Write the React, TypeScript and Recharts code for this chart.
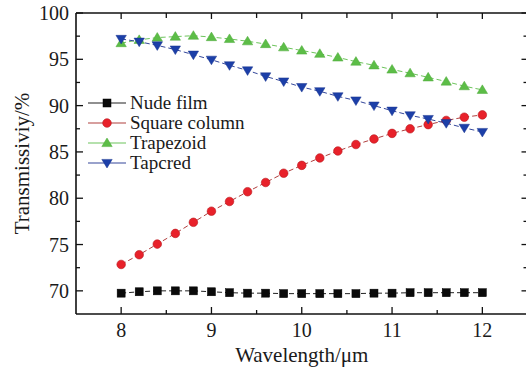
import React from 'react';
import { LineChart, Line, XAxis, YAxis, Legend, ReferenceLine } from 'recharts';

// wavelength samples (µm)
const wavelengths = [8, 8.2, 8.4, 8.6, 8.8, 9, 9.2, 9.4, 9.6, 9.8, 10, 10.2, 10.4, 10.6, 10.8, 11, 11.2, 11.4, 11.6, 11.8, 12];

const nudeFilm = [69.75, 69.9, 70.0, 70.0, 70.0, 69.9, 69.8, 69.75, 69.75, 69.7, 69.7, 69.7, 69.7, 69.7, 69.75, 69.75, 69.8, 69.8, 69.8, 69.8, 69.8];
const squareColumn = [72.85, 73.9, 75.05, 76.2, 77.4, 78.6, 79.65, 80.7, 81.7, 82.7, 83.55, 84.35, 85.1, 85.8, 86.4, 87.0, 87.5, 87.95, 88.4, 88.75, 89.0];
const trapezoid = [96.75, 97.1, 97.35, 97.45, 97.55, 97.4, 97.2, 96.95, 96.65, 96.3, 95.95, 95.6, 95.2, 94.75, 94.35, 93.9, 93.5, 93.05, 92.6, 92.1, 91.7];
const tapcred = [97.2, 96.9, 96.5, 96.05, 95.5, 94.95, 94.35, 93.8, 93.15, 92.6, 92.0, 91.55, 91.0, 90.55, 90.0, 89.45, 88.95, 88.55, 88.1, 87.6, 87.15];

const xMajor = [8, 9, 10, 11, 12];
const xMinor = [8.5, 9.5, 10.5, 11.5];
const yMajor = [70, 75, 80, 85, 90, 95, 100];
const yMinor = [72.5, 77.5, 82.5, 87.5, 92.5, 97.5];

const X_DOMAIN: [number, number] = [7.5, 12.5];
const Y_DOMAIN: [number, number] = [67.5, 100];

const data = wavelengths.map((w, i) => ({
    w,
    nude: nudeFilm[i],
    square: squareColumn[i],
    trap: trapezoid[i],
    tap: tapcred[i]
}));

type Shape = 'square' | 'circle' | 'up' | 'down';

const SERIES: { key: string; name: string; line: string; fill: string; edge: string; shape: Shape }[] = [
    { key: 'nude', name: 'Nude film', line: '#222222', fill: '#0a0a0a', edge: '#000000', shape: 'square' },
    { key: 'square', name: 'Square column', line: '#b0403f', fill: '#e8212a', edge: '#b81a1f', shape: 'circle' },
    { key: 'trap', name: 'Trapezoid', line: '#6dc45c', fill: '#5cbd47', edge: '#4eab3b', shape: 'up' },
    { key: 'tap', name: 'Tapcred', line: '#34479a', fill: '#1c3fa8', edge: '#18358f', shape: 'down' }
];

const FONT = '"Liberation Serif", "Times New Roman", serif';

// chart geometry
const CHART_W = 530;
const CHART_H = 370;
const MARGIN = { top: 13, right: 2.5, left: 0, bottom: 0 };
const Y_AXIS_W = 76;
const X_AXIS_H = 56;
const PLOT_W = CHART_W - MARGIN.left - MARGIN.right - Y_AXIS_W;
const PLOT_H = CHART_H - MARGIN.top - MARGIN.bottom - X_AXIS_H;
// tick lengths in px turned into data units so inward ticks can be drawn as segments
const pxX = (px: number) => (px * (X_DOMAIN[1] - X_DOMAIN[0])) / PLOT_W;
const pxY = (px: number) => (px * (Y_DOMAIN[1] - Y_DOMAIN[0])) / PLOT_H;

function Marker({ cx, cy, shape, fill, edge }: { cx: number; cy: number; shape: Shape; fill: string; edge: string }) {
    if (cx == null || cy == null) return null;
    if (shape === 'square') {
        return <rect x={cx - 4} y={cy - 4} width={8} height={8} fill={fill} stroke={edge} strokeWidth={0.5} />;
    }
    if (shape === 'circle') {
        return <circle cx={cx} cy={cy} r={4.3} fill={fill} stroke={edge} strokeWidth={0.6} />;
    }
    if (shape === 'up') {
        return (
            <polygon
                points={`${cx},${cy - 5} ${cx - 5.2},${cy + 3.6} ${cx + 5.2},${cy + 3.6}`}
                fill={fill}
                stroke={edge}
                strokeWidth={0.5}
            />
        );
    }
    return (
        <polygon
            points={`${cx - 5.2},${cy - 3.6} ${cx + 5.2},${cy - 3.6} ${cx},${cy + 5}`}
            fill={fill}
            stroke={edge}
            strokeWidth={0.5}
        />
    );
}

// legend keeps the series order (recharts sorts by name otherwise)
function LegendBox(props: any) {
    const payload = props.payload || [];
    const rows = SERIES.map((s) => ({ s, entry: payload.find((e: any) => e.dataKey === s.key) })).filter((r) => r.entry);
    return (
        <div style={{ fontFamily: FONT, fontSize: 19, color: '#1a1a1a' }}>
            {rows.map(({ s, entry }) => (
                <div key={s.key} style={{ display: 'flex', alignItems: 'center', height: 20 }}>
                    <svg width={40} height={20} style={{ overflow: 'visible' }}>
                        <line x1={1} x2={39} y1={10} y2={10} stroke={s.line} strokeWidth={1.2} />
                        <Marker cx={20} cy={10} shape={s.shape} fill={s.fill} edge={s.edge} />
                    </svg>
                    <span style={{ marginLeft: 3, lineHeight: '20px' }}>{entry.value}</span>
                </div>
            ))}
        </div>
    );
}

const axisStroke = { stroke: '#111', strokeWidth: 1.6 };
const TICK_COLOR = '#111';

type Seg = { key: string; a: { x: number; y: number }; b: { x: number; y: number } };

const tickSegments: Seg[] = [
    ...xMajor.map((v) => ({ key: `b${v}`, a: { x: v, y: Y_DOMAIN[0] }, b: { x: v, y: Y_DOMAIN[0] + pxY(7) } })),
    ...xMinor.map((v) => ({ key: `bm${v}`, a: { x: v, y: Y_DOMAIN[0] }, b: { x: v, y: Y_DOMAIN[0] + pxY(4) } })),
    ...xMajor.map((v) => ({ key: `t${v}`, a: { x: v, y: Y_DOMAIN[1] }, b: { x: v, y: Y_DOMAIN[1] - pxY(6) } })),
    ...xMinor.map((v) => ({ key: `tm${v}`, a: { x: v, y: Y_DOMAIN[1] }, b: { x: v, y: Y_DOMAIN[1] - pxY(5) } })),
    ...yMajor.map((v) => ({ key: `l${v}`, a: { x: X_DOMAIN[0], y: v }, b: { x: X_DOMAIN[0] + pxX(7), y: v } })),
    ...yMinor.map((v) => ({ key: `lm${v}`, a: { x: X_DOMAIN[0], y: v }, b: { x: X_DOMAIN[0] + pxX(4), y: v } })),
    ...yMajor.map((v) => ({ key: `r${v}`, a: { x: X_DOMAIN[1], y: v }, b: { x: X_DOMAIN[1] - pxX(6), y: v } })),
    ...yMinor.map((v) => ({ key: `rm${v}`, a: { x: X_DOMAIN[1], y: v }, b: { x: X_DOMAIN[1] - pxX(4), y: v } }))
];

export default function App() {
    return (
        <div style={{ position: 'absolute', left: 0, top: 0, width: 526, height: 370, overflow: 'hidden', background: '#fff' }}>
            <LineChart width={CHART_W} height={CHART_H} data={data} margin={MARGIN}>
                <XAxis
                    xAxisId="x"
                    dataKey="w"
                    type="number"
                    domain={X_DOMAIN}
                    ticks={xMajor}
                    allowDataOverflow
                    height={X_AXIS_H}
                    tickLine={false}
                    tickSize={0}
                    tickMargin={9}
                    axisLine={axisStroke}
                    tick={{ fill: '#1a1a1a', fontSize: 20, fontFamily: FONT }}
                    label={{ value: 'Wavelength/μm', position: 'insideBottom', offset: 8, fill: '#1a1a1a', fontSize: 21, fontFamily: FONT }}
                />
                <YAxis
                    yAxisId="y"
                    type="number"
                    domain={Y_DOMAIN}
                    ticks={yMajor}
                    allowDataOverflow
                    width={Y_AXIS_W}
                    tickLine={false}
                    tickSize={0}
                    tickMargin={7}
                    axisLine={axisStroke}
                    tick={{ fill: '#1a1a1a', fontSize: 20, fontFamily: FONT }}
                    label={{
                        value: 'Transmissiviy/%',
                        angle: -90,
                        position: 'insideLeft',
                        offset: 22,
                        fill: '#1a1a1a',
                        fontSize: 21,
                        fontFamily: FONT,
                        style: { textAnchor: 'middle' }
                    }}
                />

                {/* top and right frame */}
                <ReferenceLine xAxisId="x" yAxisId="y" y={Y_DOMAIN[1]} stroke="#111" strokeWidth={1.6} />
                <ReferenceLine xAxisId="x" yAxisId="y" x={X_DOMAIN[1]} stroke="#111" strokeWidth={1.6} />

                {/* inward ticks on all four sides */}
                {tickSegments.map((t) => (
                    <ReferenceLine
                        key={t.key}
                        xAxisId="x"
                        yAxisId="y"
                        segment={[t.a, t.b]}
                        stroke={TICK_COLOR}
                        strokeWidth={1.3}
                    />
                ))}

                <Legend
                    layout="vertical"
                    align="center"
                    verticalAlign="middle"
                    wrapperStyle={{ left: 87, top: 93, width: 'auto' }}
                    content={<LegendBox />}
                />

                {SERIES.map((s) => (
                    <Line
                        key={s.key}
                        xAxisId="x"
                        yAxisId="y"
                        dataKey={s.key}
                        name={s.name}
                        type="linear"
                        stroke={s.line}
                        strokeWidth={1}
                        strokeDasharray="5 3"
                        isAnimationActive={false}
                        activeDot={false}
                        dot={(p: any) => (
                            <Marker key={`${s.key}-${p.index}`} cx={p.cx} cy={p.cy} shape={s.shape} fill={s.fill} edge={s.edge} />
                        )}
                    />
                ))}
            </LineChart>
        </div>
    );
}
